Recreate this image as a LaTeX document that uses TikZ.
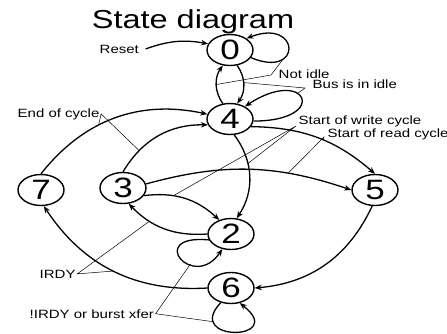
\documentclass[tikz,border=0pt]{standalone}
\usepackage{fontspec}
\setmainfont{Liberation Sans}[FakeStretch=1.25]
\usetikzlibrary{shapes.geometric,arrows.meta}
\tikzset{
  state/.style={draw,ellipse,line width=1.4pt,minimum width=46pt,minimum height=31pt,inner sep=0pt,font=\fontsize{28}{28}\selectfont},
  trans/.style={line width=1.3pt,-{Stealth[length=7pt,width=5.5pt]}},
  lbl/.style={anchor=base west,inner sep=1.5pt,font=\fontsize{12}{12}\selectfont},
  note/.style={line width=0.5pt}
}
\begin{document}
\begin{tikzpicture}[x=1pt,y=-1pt]
\useasboundingbox (0,0) rectangle (447,333);
\node[anchor=base,inner sep=0pt,font=\fontsize{26}{26}\selectfont] (title) at (193,28) {State diagram};

\node[state] (s0) at (230,50) {0};
\node[state] (s4) at (230,119) {4};
\node[state] (s7) at (41,190) {7};
\node[state] (s3) at (123,188) {3};
\node[state] (s5) at (375,190) {5};
\node[state] (s2) at (231,234) {2};
\node[state] (s6) at (231,288) {6};

\node[lbl] (reset) at (98,53) {Reset};
\node[lbl] (notidle) at (277,78) {Not idle};
\node[lbl] (busidle) at (311,88) {Bus is in idle};
\node[lbl] (endcyc) at (16,117) {End of cycle};
\node[lbl] (wrcyc) at (297,124) {Start of write cycle};
\node[lbl] (rdcyc) at (326,137) {Start of read cycle};
\node[lbl] (irdy) at (38,278) {IRDY};
\node[lbl] (nirdy) at (28,318) {!IRDY or burst xfer};

\coordinate (jnot) at (271,75);
\coordinate (jbus) at (305,88);
\coordinate (jwr) at (296,126);
\coordinate (jrd) at (324,137);

\draw[trans] ([xshift=5pt]reset.east) to[bend left=15] (s0);% Reset
\draw[trans] (s0.-20) .. controls +(52,22) and +(54,-21) .. coordinate[pos=0.3] (l0) (s0.35);% stay in 0
\draw[trans] (s4.115) to[bend left=35] coordinate[pos=0.5] (e40) (s0.245);
\draw[trans] (s0.295) to[bend left=35] coordinate[pos=0.45] (e04) (s4.65);
\draw[trans] (s4.-5) .. controls +(77,0) and +(62,-41) .. coordinate[pos=0.6] (l4) (s4.40);% stay in 4
\draw[trans] (s7.north) to[bend left=32] coordinate[pos=0.4] (e74) (s4.168);
\draw[trans] (s3.north) to[bend left=30] coordinate[pos=0.25] (e34) (s4.195);
\draw[trans] (s4.-20) to[bend left=20] coordinate[pos=0.55] (e45) (s5.north);
\draw[trans] (s4.-75) to[bend left=35] coordinate[pos=0.35] (e42) (s2.70);
\draw[trans] (s3.10) to[bend left=17] coordinate[pos=0.7] (e35) (s5.west);
\draw[trans] (s3.-20) to[bend left=25] coordinate[pos=0.35] (e32) (s2.130);
\draw[trans] (s2.west) to[bend left=25] coordinate[pos=0.7] (e23) (s3.-70);
\draw[trans] (s2.195) .. controls +(-64,-6) and +(-29,43) .. coordinate[pos=0.65] (l2) (s2.240);% stay in 2
\draw[trans] (s5.-100) to[bend left=30] (s6.east);
\draw[trans] (s6.west) to[bend left=30] coordinate[pos=0.5] (e67) (s7.-80);
\draw[trans] (s6.235) .. controls +(-38,40) and +(49,38) .. coordinate[pos=0.2] (l6) (s6.300);% stay in 6

\draw[note] (l0) -- (jnot) -- (e40);
\draw[note] (e04) -- (jbus) -- (l4);
\draw[note] (e74) -- (endcyc.east) -- (e34);
\draw[note] (e42) -- (jwr) -- (e32);
\draw[note] (e45) -- (jrd) -- (e35);
\draw[note] (e23) -- (irdy.east) -- (e67);
\draw[note] (l2) -- (nirdy.east) -- (l6);
\end{tikzpicture}
\end{document}
